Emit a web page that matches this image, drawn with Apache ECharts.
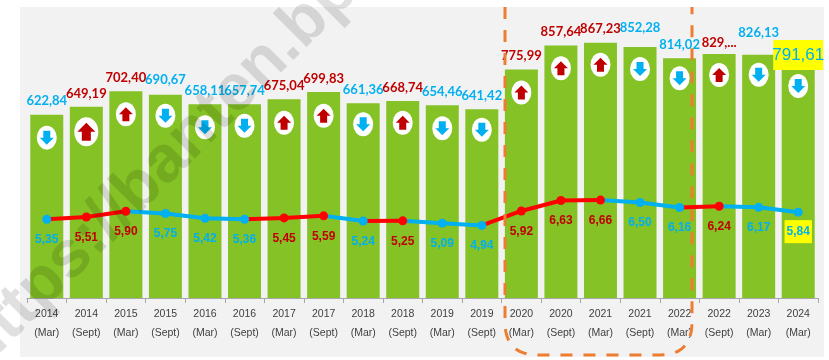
<!DOCTYPE html>
<html><head><meta charset="utf-8">
<style>html,body{margin:0;padding:0;background:#fff}#c{width:829px;height:360px}</style>
<script src="https://cdn.jsdelivr.net/npm/echarts@6/dist/echarts.min.js"></script></head>
<body><div id="c"></div>
<script>
const categories = ['2014\n(Mar)','2014\n(Sept)','2015\n(Mar)','2015\n(Sept)','2016\n(Mar)','2016\n(Sept)','2017\n(Mar)','2017\n(Sept)','2018\n(Mar)','2018\n(Sept)','2019\n(Mar)','2019\n(Sept)','2020\n(Mar)','2020\n(Sept)','2021\n(Mar)','2021\n(Sept)','2022\n(Mar)','2022\n(Sept)','2023\n(Mar)','2024\n(Mar)'];
const povertyCount = [622.84,649.19,702.40,690.67,658.11,657.74,675.04,699.83,661.36,668.74,654.46,641.42,775.99,857.64,867.23,852.28,814.02,829,826.13,791.61];
const povertyRate = [5.35,5.51,5.90,5.75,5.42,5.36,5.45,5.59,5.24,5.25,5.09,4.94,5.92,6.63,6.66,6.50,6.16,6.24,6.17,5.84];
const trend = ['down','up','up','down','down','down','up','up','down','up','down','down','up','up','up','down','down','up','down','down'];

const RED='#C00000', LINE_RED='#FF0000', BLUE='#00B0F0', GREEN='#84C225';
const SANS='"Liberation Sans",sans-serif';
const fmt=v=>v.toFixed(2).replace('.',',');
const markerDy=[23,25,23,21,23,21.5,23.5,23.7,21,21.6,23,20.7,23,22.7,22,22,20,21,20,21];
const labelDist=[7,7,7,8,7,7,7,7,7,7,7,7,7,7,7,13,7,5,15,-5];
const UP='path://M7 0 L14 7 L10.5 7 L10.5 14 L3.5 14 L3.5 7 L0 7 Z';
const DOWN='path://M3.5 0 L10.5 0 L10.5 7 L14 7 L7 14 L0 7 L3.5 7 Z';

const barData=povertyCount.map((v,i)=>{
  const d={value:v,label:{distance:labelDist[i],color:trend[i]==='up'?RED:BLUE}};
  if(i===17) d.label.formatter='829,...';
  if(i===19){Object.assign(d.label,{backgroundColor:'#FFFF00',fontFamily:SANS,fontWeight:'normal',fontSize:17,width:50,height:30,lineHeight:30,align:'center',verticalAlign:'bottom',padding:0});}
  return d;
});
const ell=povertyCount.map((v,i)=>({value:v,symbolOffset:[0,markerDy[i]],symbolSize:i===1?[24,29]:[20,24]}));
const arr=povertyCount.map((v,i)=>({value:v,symbol:trend[i]==='up'?UP:DOWN,symbolOffset:[0,markerDy[i]],symbolSize:i===1?[18,18]:[14,14],itemStyle:{color:trend[i]==='up'?RED:BLUE}}));

const runs=[];
for(let i=0;i<povertyRate.length-1;i++){
  const t=trend[i+1];
  if(runs.length&&runs[runs.length-1].t===t) runs[runs.length-1].end=i+1;
  else runs.push({t,start:i,end:i+1});
}
const segSeries=runs.map(r=>({type:'line',yAxisIndex:1,symbol:'none',silent:true,z:4,
  lineStyle:{width:4,color:r.t==='up'?LINE_RED:BLUE,cap:'round'},
  data:povertyRate.map((v,i)=>i>=r.start&&i<=r.end?v:null)}));

const pts=povertyRate.map((v,i)=>{
  const up=trend[i]==='up';
  const d={value:v,itemStyle:{color:up?LINE_RED:BLUE},label:{color:up?RED:BLUE}};
  if(i===19){d.label.backgroundColor='#FFFF00';d.label.padding=[6,2,5,2];d.label.distance=3.5;}
  return d;
});

function corner(x0,y0,cx,cy,x1,y1){const o=[];for(let k=0;k<=12;k++){const t=k/12,u=1-t;o.push([u*u*x0+2*u*t*cx+t*t*x1,u*u*y0+2*u*t*cy+t*t*y1]);}return o;}
const dashPts=[[505,7],...corner(505,322,505,355,538,355),...corner(660,355,692,355,692,322),[692,7]];

const chart=echarts.init(document.getElementById('c'),null,{renderer:'canvas'});
chart.setOption({
  animation:false,backgroundColor:'#fff',
  grid:{left:27,right:11,top:8,bottom:62},
  xAxis:{type:'category',data:categories,
    axisLine:{lineStyle:{color:'#A6A6A6',width:1}},
    axisTick:{show:true,length:5,alignWithLabel:false,lineStyle:{color:'#A6A6A6'}},
    axisLabel:{interval:0,fontFamily:'"Liberation Sans"',fontSize:10.5,color:'#404040',lineHeight:19,margin:7}},
  yAxis:[{type:'value',min:0,max:985,show:false},{type:'value',min:0,max:19.73,show:false}],
  series:[
    {type:'bar',data:barData,barWidth:33,itemStyle:{color:GREEN},z:2,
      label:{show:true,position:'top',fontFamily:'Lato',fontWeight:'bold',fontSize:13,formatter:p=>fmt(p.value)}},
    {type:'scatter',data:ell,symbol:'circle',itemStyle:{color:'#fff',opacity:1},z:3,silent:true},
    {type:'scatter',data:arr,z:3.5,silent:true,itemStyle:{opacity:1}},
    ...segSeries,
    {type:'line',yAxisIndex:1,data:pts,symbol:'circle',symbolSize:9,showAllSymbol:true,lineStyle:{opacity:0,width:0},z:5,
      label:{show:true,position:'bottom',distance:10,fontFamily:SANS,fontWeight:'bold',fontSize:12,formatter:p=>fmt(p.value)}}
  ],
  graphic:[
    {type:'rect',z:-10,silent:true,shape:{x:20,y:7,width:804,height:350},style:{fill:'#F2F2F2'}},
    {type:'polyline',z:100,silent:true,shape:{points:dashPts},style:{fill:null,stroke:'#ED7D31',lineWidth:3,lineDash:[12,11]}},
    {type:'text',z:101,silent:true,x:-8,y:382,rotation:0.785,style:{text:'https://banten.bps.go.id',font:'bold 66px "Liberation Sans"',fill:'rgba(0,0,0,0.12)',textVerticalAlign:'bottom'}},
    {type:'rect',z:102,silent:true,shape:{x:824,y:0,width:5,height:360},style:{fill:'#fff'}}
  ]
});
</script></body></html>
